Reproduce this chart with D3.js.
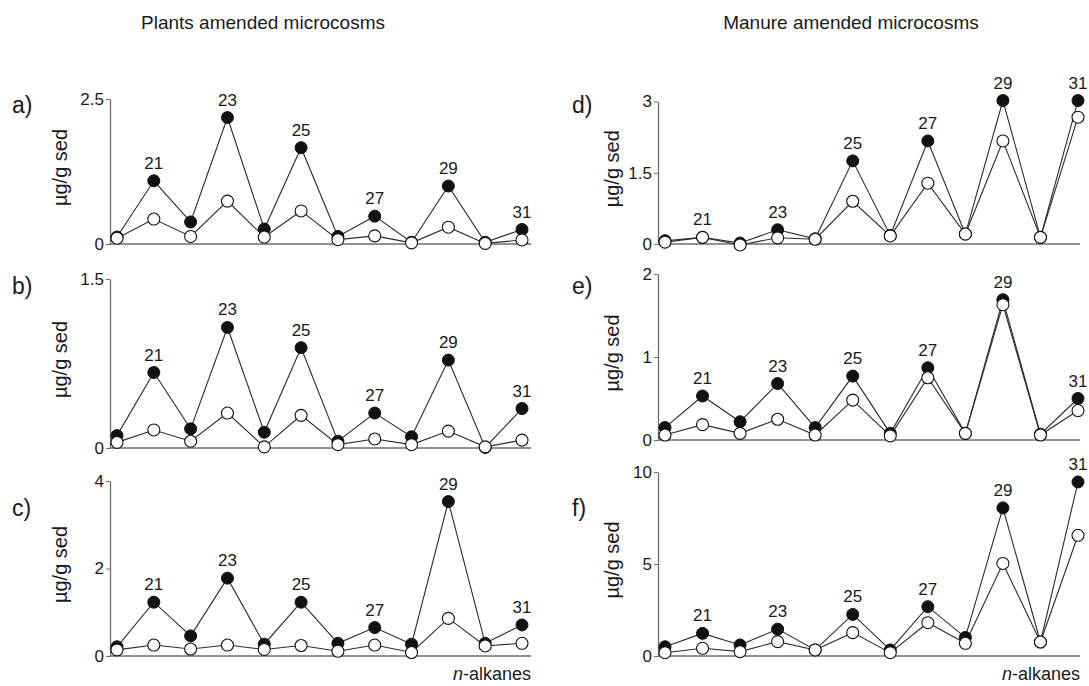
<!DOCTYPE html>
<html>
<head>
<meta charset="utf-8">
<script src="https://cdn.jsdelivr.net/npm/d3@7/dist/d3.min.js"></script>
<style>
  html, body { margin: 0; padding: 0; background: #fff; }
  svg { display: block; font-family: "Liberation Sans", Arial, Helvetica, sans-serif; }
</style>
</head>
<body>
<svg id="chart" width="1089" height="686"></svg>
<script>
// n-alkane chain lengths (C20 … C31)
const carbons = [20, 21, 22, 23, 24, 25, 26, 27, 28, 29, 30, 31];
const labeledCarbons = [21, 23, 25, 27, 29, 31];

const columnTitles = ["Plants amended microcosms", "Manure amended microcosms"];
const panelLetters = ["a)", "b)", "c)", "d)", "e)", "f)"];
const yMaxima = [2.5, 1.5, 4, 3, 2, 10];
const yTicks = [[0, 2.5], [0, 1.5], [0, 2, 4], [0, 1.5, 3], [0, 1, 2], [0, 5, 10]];
const yTitle = "µg/g sed";
const xTitle = "alkanes";

// µg/g sed, filled symbols
const aFilled = [0.12, 1.09, 0.38, 2.18, 0.26, 1.66, 0.13, 0.48, 0.03, 1.00, 0.03, 0.25];
const bFilled = [0.11, 0.67, 0.17, 1.07, 0.14, 0.89, 0.06, 0.31, 0.10, 0.78, 0.005, 0.35];
const cFilled = [0.21, 1.23, 0.46, 1.78, 0.27, 1.23, 0.29, 0.65, 0.27, 3.53, 0.29, 0.71];
const dFilled = [0.07, 0.14, 0.02, 0.30, 0.11, 1.75, 0.18, 2.17, 0.21, 3.02, 0.14, 3.02];
const eFilled = [0.15, 0.53, 0.22, 0.68, 0.15, 0.77, 0.08, 0.87, 0.08, 1.69, 0.07, 0.50];
const fFilled = [0.50, 1.23, 0.60, 1.46, 0.33, 2.26, 0.33, 2.68, 1.01, 8.05, 0.76, 9.46];

// µg/g sed, open symbols
const aOpen = [0.10, 0.43, 0.13, 0.74, 0.12, 0.57, 0.075, 0.14, 0.02, 0.29, 0.01, 0.07];
const bOpen = [0.05, 0.16, 0.06, 0.31, 0.01, 0.29, 0.03, 0.08, 0.03, 0.15, 0.01, 0.07];
const cOpen = [0.14, 0.25, 0.16, 0.25, 0.15, 0.24, 0.11, 0.25, 0.08, 0.86, 0.23, 0.29];
const dOpen = [0.04, 0.14, -0.02, 0.13, 0.10, 0.90, 0.17, 1.28, 0.21, 2.17, 0.14, 2.67];
const eOpen = [0.06, 0.185, 0.08, 0.25, 0.06, 0.48, 0.05, 0.75, 0.08, 1.63, 0.06, 0.355];
const fOpen = [0.18, 0.42, 0.24, 0.78, 0.33, 1.27, 0.18, 1.81, 0.69, 5.03, 0.76, 6.56];

const filledSeries = [aFilled, bFilled, cFilled, dFilled, eFilled, fFilled];
const openSeries = [aOpen, bOpen, cOpen, dOpen, eOpen, fOpen];

// Layout
const columns = [
  { axisX: 110, x0: 117, x1: 522, end: 531, titleX: 263, letterX: 12, yTitleX: 60 },
  { axisX: 658, x0: 665, x1: 1078, end: 1080, titleX: 851, letterX: 572, yTitleX: 612 }
];
const rowsLeft = [
  { y0: 244, yTop: 99 },
  { y0: 448, yTop: 279 },
  { y0: 656, yTop: 481 }
];
const rowsRight = [
  { y0: 244, yTop: 101.5 },
  { y0: 440, yTop: 274 },
  { y0: 656, yTop: 472 }
];
const letterY = [105, 286, 508];

const svg = d3.select("#chart");
const lineColor = "#2b2b2b";
const axisColor = "#6e6e6e";
const r = 6;

columns.forEach((col, ci) => {
  svg.append("text")
    .attr("x", col.titleX).attr("y", 29)
    .attr("text-anchor", "middle")
    .attr("font-size", 19)
    .attr("fill", "#1a1a1a")
    .text(columnTitles[ci]);
});

for (let p = 0; p < 6; p++) {
  const ci = p < 3 ? 0 : 1;
  const ri = p % 3;
  const col = columns[ci];
  const row = ci === 0 ? rowsLeft[ri] : rowsRight[ri];

  const x = d3.scalePoint().domain(carbons).range([col.x0, col.x1]).padding(0);
  const y = d3.scaleLinear().domain([0, yMaxima[p]]).range([row.y0, row.yTop]);

  const g = svg.append("g");

  // horizontal baseline
  g.append("line")
    .attr("x1", col.axisX).attr("x2", col.end)
    .attr("y1", y(0)).attr("y2", y(0))
    .attr("stroke", axisColor).attr("stroke-width", 1.3);

  // y axis
  const yAxis = d3.axisLeft(y)
    .tickValues(yTicks[p])
    .tickFormat(d3.format("~g"))
    .tickSize(4)
    .tickPadding(2)
    .tickSizeOuter(0);
  const ax = g.append("g")
    .attr("transform", `translate(${col.axisX},0)`)
    .call(yAxis);
  ax.select(".domain").attr("stroke", axisColor).attr("stroke-width", 1.3);
  ax.selectAll(".tick line").attr("stroke", axisColor);
  ax.selectAll(".tick text")
    .attr("font-size", 17)
    .attr("fill", "#1a1a1a")
    .attr("font-family", "Liberation Sans, Arial, sans-serif");

  // y axis title
  g.append("text")
    .attr("transform", `translate(${col.yTitleX},${(y(0) + row.yTop) / 2 - 4}) rotate(-90)`)
    .attr("text-anchor", "middle")
    .attr("dominant-baseline", "central")
    .attr("font-size", 20)
    .attr("fill", "#1a1a1a")
    .text(yTitle);

  // panel letter
  g.append("text")
    .attr("x", col.letterX).attr("y", letterY[ri])
    .attr("dominant-baseline", "central")
    .attr("font-size", 23)
    .attr("fill", "#1a1a1a")
    .text(panelLetters[p]);

  const filled = carbons.map((c, i) => ({ c, v: filledSeries[p][i] }));
  const open = carbons.map((c, i) => ({ c, v: openSeries[p][i] }));
  const line = d3.line().x(d => x(d.c)).y(d => y(d.v));

  g.append("path").datum(filled)
    .attr("d", line).attr("fill", "none")
    .attr("stroke", lineColor).attr("stroke-width", 1.1);
  g.append("path").datum(open)
    .attr("d", line).attr("fill", "none")
    .attr("stroke", lineColor).attr("stroke-width", 1.1);

  g.selectAll("circle.filled").data(filled).join("circle")
    .attr("class", "filled")
    .attr("cx", d => x(d.c)).attr("cy", d => y(d.v)).attr("r", r)
    .attr("fill", "#111").attr("stroke", "#111").attr("stroke-width", 1);
  g.selectAll("circle.open").data(open).join("circle")
    .attr("class", "open")
    .attr("cx", d => x(d.c)).attr("cy", d => y(d.v)).attr("r", r)
    .attr("fill", "#fff").attr("stroke", "#111").attr("stroke-width", 1.1);

  // chain-length labels above odd n-alkanes
  g.selectAll("text.cl").data(labeledCarbons).join("text")
    .attr("class", "cl")
    .attr("x", c => x(c))
    .attr("y", c => {
      const i = carbons.indexOf(c);
      return y(Math.max(filledSeries[p][i], openSeries[p][i])) - 12;
    })
    .attr("text-anchor", "middle")
    .attr("font-size", 17)
    .attr("fill", "#1a1a1a")
    .text(c => c);

  // x axis title on bottom panels
  if (ri === 2) {
    const t = g.append("text")
      .attr("x", col.end).attr("y", 680)
      .attr("text-anchor", "end")
      .attr("font-size", 18)
      .attr("fill", "#1a1a1a");
    t.append("tspan").attr("font-style", "italic").text("n");
    t.append("tspan").text("-" + xTitle);
  }
}
</script>
</body>
</html>
